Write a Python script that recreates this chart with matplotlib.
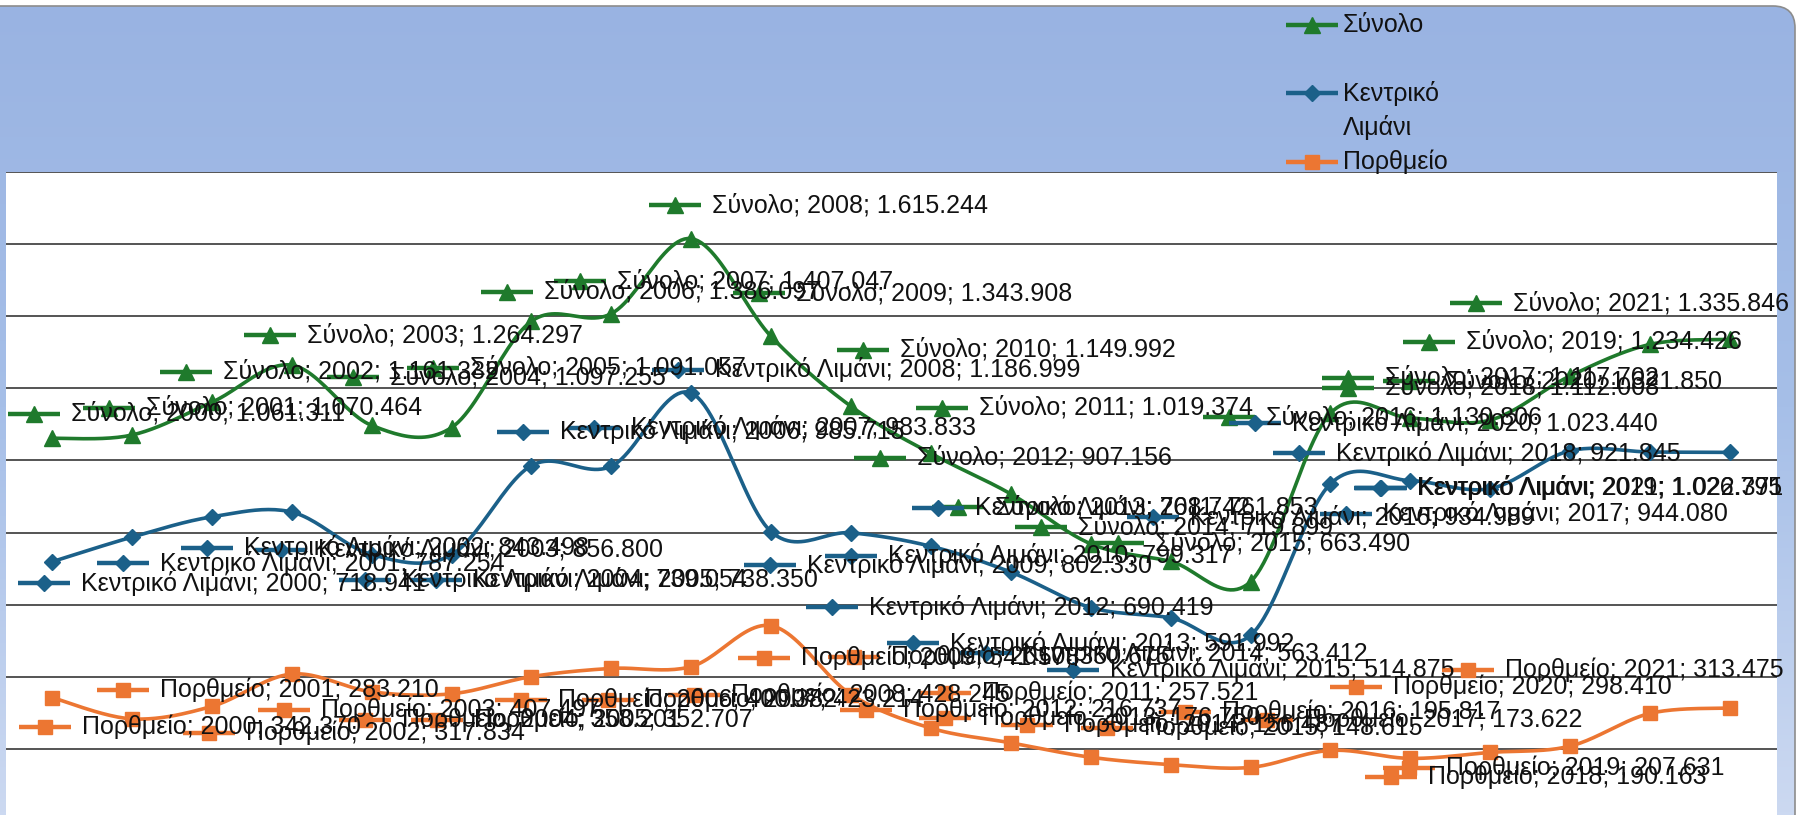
import numpy as np
import matplotlib.pyplot as plt
from matplotlib.colors import LinearSegmentedColormap
from matplotlib.patches import FancyBboxPatch

plt.rcParams['font.family'] = ['Liberation Sans', 'DejaVu Sans']

years = list(range(2000, 2022))
total = [1061311, 1070464, 1161332, 1264297, 1097255, 1091057, 1386097, 1407047,
         1615244, 1343908, 1149992, 1019374, 907156, 768742, 719899, 663490,
         1130806, 1117702, 1112008, 1234426, 1321850, 1335846]
central = [718941, 787254, 843498, 856800, 739054, 738350, 985715, 983833,
           1186999, 802330, 799317, 761853, 690419, 591992, 563412, 514875,
           934989, 944080, 921845, 1026795, 1023440, 1022371]
ferry = [342370, 283210, 317834, 407497, 358201, 352707, 400382, 423214,
         428245, 541578, 350675, 257521, 216737, 176750, 156487, 148615,
         195817, 173622, 190163, 207631, 298410, 313475]
names = ['Σύνολο', 'Κεντρικό Λιμάνι', 'Πορθμείο']

# data label anchors (left end of the key, vertical centre), figure pixels from top-left
total_lbl = [(8, 414), (83, 408), (160, 372), (244, 335), (327, 377), (407, 368),
             (481, 292), (554, 281), (649, 205), (733, 293), (837, 350), (916, 408),
             (854, 458), (932, 507), (1015, 527), (1092, 543), (1203, 417),
             (1322, 378), (1322, 388), (1403, 342), (1383, 381), (1450, 303)]
central_lbl = [(18, 583), (97, 563), (181, 548), (255, 550), (339, 580), (410, 580),
               (497, 432), (568, 428), (652, 370), (744, 565), (825, 556), (912, 508),
               (806, 607), (887, 643), (960, 653), (1047, 670), (1127, 517),
               (1320, 514), (1273, 453), (1354, 488), (1229, 423), (1355, 488)]
ferry_lbl = [(19, 727), (97, 690), (183, 733), (258, 710), (339, 720), (411, 720),
             (495, 700), (582, 700), (668, 695), (738, 658), (828, 657), (919, 693),
             (840, 710), (919, 718), (1001, 725), (1081, 728), (1159, 712),
             (1241, 720), (1365, 777), (1383, 768), (1330, 687), (1442, 670)]

W, H = 1797, 815
GREEN, BLUE, ORANGE = '#1f7a2c', '#1b6089', '#ec7632'
series = [
    (total, names[0], total_lbl, GREEN, '^', 11),
    (central, names[1], central_lbl, BLUE, 'D', 8.5),
    (ferry, names[2], ferry_lbl, ORANGE, 's', 10.5),
]


def fmt(v):
    return f'{v:,}'.replace(',', '.')


def smooth(x, y, n=24):
    # Catmull-Rom curve through the points, like Excel's smoothed line
    P = np.column_stack([np.asarray(x, float), np.asarray(y, float)])
    P = np.vstack([P[0], P, P[-1]])
    t = np.linspace(0, 1, n, endpoint=False)[:, None]
    segs = []
    for i in range(1, len(P) - 2):
        p0, p1, p2, p3 = P[i - 1], P[i], P[i + 1], P[i + 2]
        segs.append(0.5 * (2 * p1 + (p2 - p0) * t
                           + (2 * p0 - 5 * p1 + 4 * p2 - p3) * t ** 2
                           + (3 * p1 - p0 - 3 * p2 + p3) * t ** 3))
    segs.append(P[-2][None])
    c = np.vstack(segs)
    return c[:, 0], c[:, 1]


fig = plt.figure(figsize=(W / 100, H / 100), dpi=100)

# blue chart panel, only the top right corner is rounded on the canvas
bg = fig.add_axes([0, 0, 1, 1], zorder=0)
bg.set_xlim(0, W)
bg.set_ylim(H, 0)
bg.axis('off')
cmap = LinearSegmentedColormap.from_list('panel', ['#99b3e2', '#a6bfe8', '#ccd9f1'])
im = bg.imshow(np.linspace(0, 1, 256)[:, None], extent=[0, W, H, 0], cmap=cmap, aspect='auto')
panel = FancyBboxPatch((-60, 6), W + 58, H + 40, boxstyle='round,pad=0,rounding_size=22',
                       fc='none', ec='#8c8c8c', lw=1.2)
bg.add_patch(panel)
im.set_clip_path(panel)

# plot area
left, right, top = 6, 1777, 172
ax = fig.add_axes([left / W, 0, (right - left) / W, (H - top) / H], zorder=1)
ax.set_facecolor('white')
step = 79.9
ax.set_xlim(2000 - 46 / step, 2000 + (right - left - 46) / step)
ax.set_ylim(16600, 1800000)
ax.set_yticks(range(200000, 1800001, 200000))
ax.grid(axis='y', color='#474747', lw=1.3)
ax.tick_params(left=False, bottom=False, labelleft=False, labelbottom=False)
for s in ax.spines.values():
    s.set_visible(False)

for vals, name, pos, col, mk, ms in series:
    sx, sy = smooth(years, vals)
    ax.plot(sx, sy, color=col, lw=2.6, solid_capstyle='round')
    ax.plot(years, vals, ls='none', marker=mk, ms=ms, color=col)

# data labels and legend drawn in pixel space on top
ov = fig.add_axes([0, 0, 1, 1], zorder=2)
ov.set_xlim(0, W)
ov.set_ylim(H, 0)
ov.axis('off')
ov.patch.set_alpha(0)


def key(x, y, col, mk, ms):
    ov.plot([x, x + 52], [y, y], color=col, lw=3.2, solid_capstyle='butt')
    ov.plot([x + 26], [y], marker=mk, ms=ms, color=col)


for vals, name, pos, col, mk, ms in series:
    for yr, v, (x, y) in zip(years, vals, pos):
        key(x, y, col, mk, ms)
        ov.text(x + 63, y, f'{name}; {yr}; {fmt(v)}', fontsize=18, va='center',
                color='#111111')

legend_rows = [(25, 'Σύνολο'), (93, 'Κεντρικό\nΛιμάνι'), (162, 'Πορθμείο')]
for (y, label), (vals, name, pos, col, mk, ms) in zip(legend_rows, series):
    key(1286, y, col, mk, ms)
    ov.text(1343, y, label.split('\n')[0], fontsize=18, va='center', color='#111111')
    if '\n' in label:
        ov.text(1343, y + 34, label.split('\n')[1], fontsize=18, va='center', color='#111111')

fig.savefig('out.png', dpi=100)
